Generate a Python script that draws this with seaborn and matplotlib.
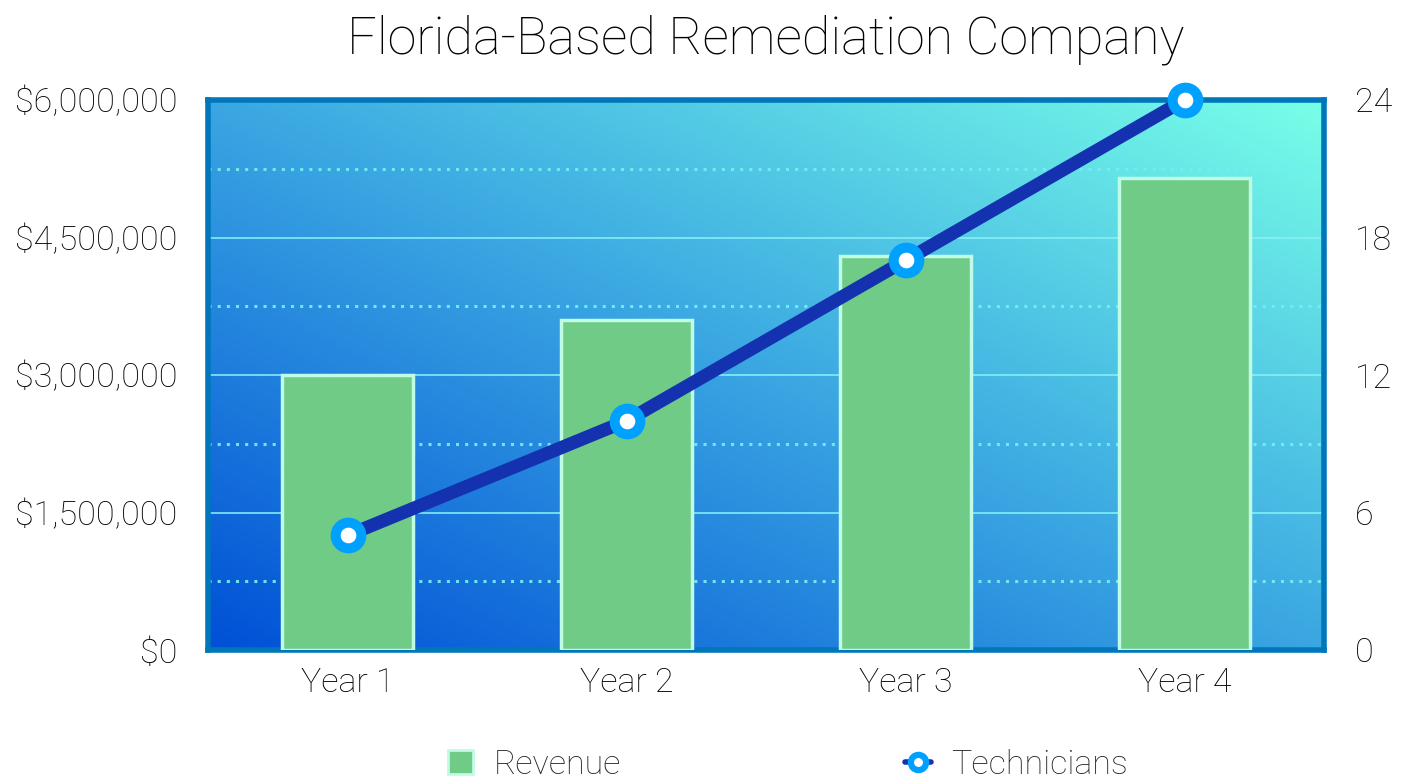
import numpy as np
import pandas as pd
import matplotlib
matplotlib.use("Agg")
import matplotlib.pyplot as plt
from matplotlib.colors import LinearSegmentedColormap
from matplotlib.ticker import FuncFormatter
from matplotlib.lines import Line2D
from matplotlib.patches import Patch
import seaborn as sns

years = ["Year 1", "Year 2", "Year 3", "Year 4"]
revenue = [3000000, 3600000, 4300000, 5150000]
technicians = [5, 10, 17, 24]
left_ticks = [0, 1500000, 3000000, 4500000, 6000000]
right_ticks = [0, 6, 12, 18, 24]
minor_grid = [750000, 2250000, 3750000, 5250000]

sns.set_theme(style="white")
plt.rcParams['font.family'] = ['Roboto', 'DejaVu Sans']
plt.rcParams['font.weight'] = 'light'

df = pd.DataFrame({"Year": years, "Revenue": revenue, "Technicians": technicians})

fig = plt.figure(figsize=(14.08, 7.79), dpi=100)
ax = fig.add_axes([208/1408, 1 - 650/779, (1324-208)/1408, 550/779])

# gradient background
cmap = LinearSegmentedColormap.from_list("bg", ["#0050d6", "#3aa6e2", "#78ffe8"])
nx, ny = 400, 200
xx, yy = np.meshgrid(np.linspace(0, 1, nx), np.linspace(0, 1, ny))
grad = (xx + yy) / 2
ax.imshow(grad, cmap=cmap, origin="lower", extent=[0, 1, 0, 1],
          transform=ax.transAxes, aspect="auto", zorder=0, interpolation="bicubic")

sns.barplot(data=df, x="Year", y="Revenue", ax=ax, color="#70cb86", saturation=1,
            width=0.47, edgecolor="#c0fbe6", linewidth=2.5, zorder=3)

ax.set_ylim(0, 6000000)
ax.set_xlim(-0.5, 3.5)
for v in left_ticks[1:-1]:
    ax.axhline(v, color="#86f2f6", lw=1.2, zorder=1, alpha=0.95)
for v in minor_grid:
    ax.axhline(v, color="#70eef4", lw=2.2, ls=(0, (1, 2)), zorder=1, alpha=0.95)

ax.set_yticks(left_ticks)
ax.yaxis.set_major_formatter(FuncFormatter(lambda v, p: "${:,.0f}".format(v)))
ax.set_xlabel("")
ax.set_ylabel("")
ax.tick_params(axis="y", labelsize=24.5, length=0, pad=22, colors="black")
ax.tick_params(axis="x", labelsize=24.5, length=0, pad=12, colors="black")
for s in ax.spines.values():
    s.set_color("#0077bb")
    s.set_linewidth(4)

ax2 = ax.twinx()
sns.pointplot(data=df, x="Year", y="Technicians", ax=ax2, color="#1432b0",
              markers="o", linewidth=9.5, markersize=18.5,
              markerfacecolor="white", markeredgecolor="#00a0ff", markeredgewidth=7.2,
              zorder=5)
for line in ax2.lines:
    line.set_clip_on(False)
ax2.set_ylim(0, 24)
ax2.set_xlim(-0.5, 3.5)
ax2.set_yticks(right_ticks)
ax2.set_ylabel("")
ax2.set_xlabel("")
ax2.tick_params(axis="y", labelsize=24.5, length=0, pad=22, colors="black")
for s in ax2.spines.values():
    s.set_visible(False)
ax2.grid(False)

fig.text(766/1408, 0.982, "Florida-Based Remediation Company", fontsize=37.5,
         ha="center", va="top", color="black", fontweight="light")

handles = [Patch(facecolor="#70cb86", edgecolor="#c0fbe6", linewidth=2, label="Revenue"),
           Line2D([0], [0], color="#1432b0", lw=4, marker="o", markersize=11,
                  markerfacecolor="white", markeredgecolor="#00a0ff",
                  markeredgewidth=4.5, label="Technicians")]
fig.legend(handles=handles, loc="center", bbox_to_anchor=(788/1408, 0.018), ncol=2,
           frameon=False, fontsize=24.5, columnspacing=8.35, handlelength=0.75,
           handletextpad=0.6)

fig.savefig("out.png", dpi=100)
